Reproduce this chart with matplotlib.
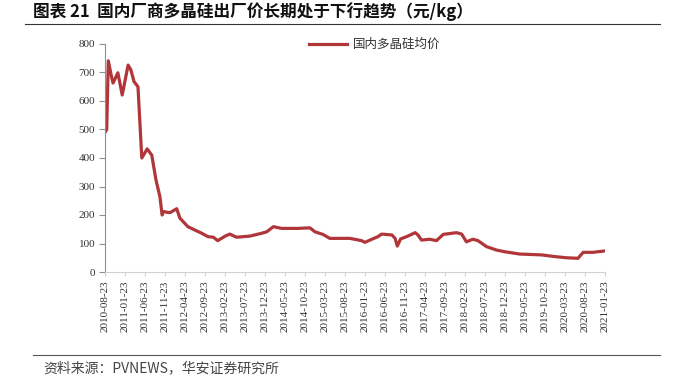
import matplotlib
matplotlib.use("Agg")
import matplotlib.pyplot as plt
import pandas as pd

plt.rcParams['font.family'] = ['Noto Sans CJK SC', 'DejaVu Sans']

dates = ["2010-08-23", "2010-09-05", "2010-09-17", "2010-10-14", "2010-10-23", "2010-11-29",
         "2011-01-01", "2011-02-15", "2011-03-08", "2011-04-01", "2011-05-01", "2011-05-30",
         "2011-07-10", "2011-08-14", "2011-09-15", "2011-10-15", "2011-11-01", "2011-11-10",
         "2011-12-30", "2012-02-20", "2012-03-15", "2012-05-15", "2012-08-28", "2012-10-15",
         "2012-11-25", "2012-12-28", "2013-02-23", "2013-03-30", "2013-05-20", "2013-08-30",
         "2013-11-28", "2014-01-05", "2014-02-25", "2014-04-28", "2014-09-01", "2014-11-30",
         "2015-01-07", "2015-03-08", "2015-04-30", "2015-09-30", "2015-12-28", "2016-01-23",
         "2016-03-15", "2016-05-01", "2016-05-28", "2016-08-15", "2016-09-08", "2016-09-25",
         "2016-10-20", "2016-12-05", "2017-02-08", "2017-03-01", "2017-03-28", "2017-05-30",
         "2017-07-20", "2017-09-10", "2017-12-20", "2018-01-28", "2018-03-05", "2018-04-23",
         "2018-06-01", "2018-08-05", "2018-10-20", "2018-12-23", "2019-04-15", "2019-09-28",
         "2020-01-08", "2020-04-05", "2020-07-01", "2020-08-10", "2020-10-23", "2021-01-23"]
prices = [490, 500, 741, 680, 663, 699,
          621, 726, 709, 668, 650, 400,
          432, 410, 323, 264, 200, 212,
          208, 222, 189, 159, 136, 124,
          122, 110, 126, 133, 122, 126,
          136, 141, 159, 153, 153, 155,
          141, 132, 118, 118, 110, 104,
          115, 124, 133, 130, 118, 91,
          116, 124, 138, 130, 112, 115,
          110, 132, 138, 133, 106, 115,
          110, 89, 77, 71, 63, 60,
          54, 50, 48, 69, 69, 74]

tick_labels = ["2010-08-23", "2011-01-23", "2011-06-23", "2011-11-23", "2012-04-23", "2012-09-23",
               "2013-02-23", "2013-07-23", "2013-12-23", "2014-05-23", "2014-10-23", "2015-03-23",
               "2015-08-23", "2016-01-23", "2016-06-23", "2016-11-23", "2017-04-23", "2017-09-23",
               "2018-02-23", "2018-07-23", "2018-12-23", "2019-05-23", "2019-10-23", "2020-03-23",
               "2020-08-23", "2021-01-23"]
y_ticks = [0, 100, 200, 300, 400, 500, 600, 700, 800]

title = "图表 21  国内厂商多晶硅出厂价长期处于下行趋势（元/kg）"
series_name = "国内多晶硅均价"
source = "资料来源：PVNEWS，华安证券研究所"

x = pd.to_datetime(dates)
xt = pd.to_datetime(tick_labels)

fig = plt.figure(figsize=(6.8, 3.78), dpi=100)
ax = fig.add_axes([105/680, 1-272/378, 500/680, 228/378])
ax.plot(x, prices, color='#B0363A', lw=2.3, solid_joinstyle='round')
ax.set_xlim(xt[0], xt[-1])
ax.set_ylim(0, 800)
ax.set_yticks(y_ticks)
ax.set_yticklabels([str(v) for v in y_ticks], family='Liberation Serif', fontsize=8, color='#333333')
ax.set_xticks(xt)
ax.set_xticklabels(tick_labels, rotation=90, family='Liberation Serif', fontsize=8, color='#333333')
for s in ['top', 'right']:
    ax.spines[s].set_visible(False)
ax.spines['left'].set_color('#909090')
ax.spines['bottom'].set_color('#d0d0d0')
ax.tick_params(axis='y', length=4, color='#909090', pad=3)
ax.tick_params(axis='x', length=3, color='#d0d0d0', pad=3)

ax.legend([series_name], loc='upper center', bbox_to_anchor=(0.54, 1.075), frameon=False,
          fontsize=9, handlelength=3.0, handletextpad=0.5)
ax.get_legend().get_texts()[0].set_color('#333333')

fig.text(33/680, 1-12/378, title, fontsize=12, fontweight='bold', va='center', ha='left', color='#111111')
fig.add_artist(plt.Line2D([25/680, 660/680], [1-24/378, 1-24/378], color='#333333', lw=0.8))
fig.add_artist(plt.Line2D([33/680, 660/680], [1-355/378, 1-355/378], color='#555555', lw=0.8))
fig.text(43/680, 1-368/378, source, fontsize=10, va='center', ha='left', color='#444444')

fig.savefig("out.png", dpi=100)
